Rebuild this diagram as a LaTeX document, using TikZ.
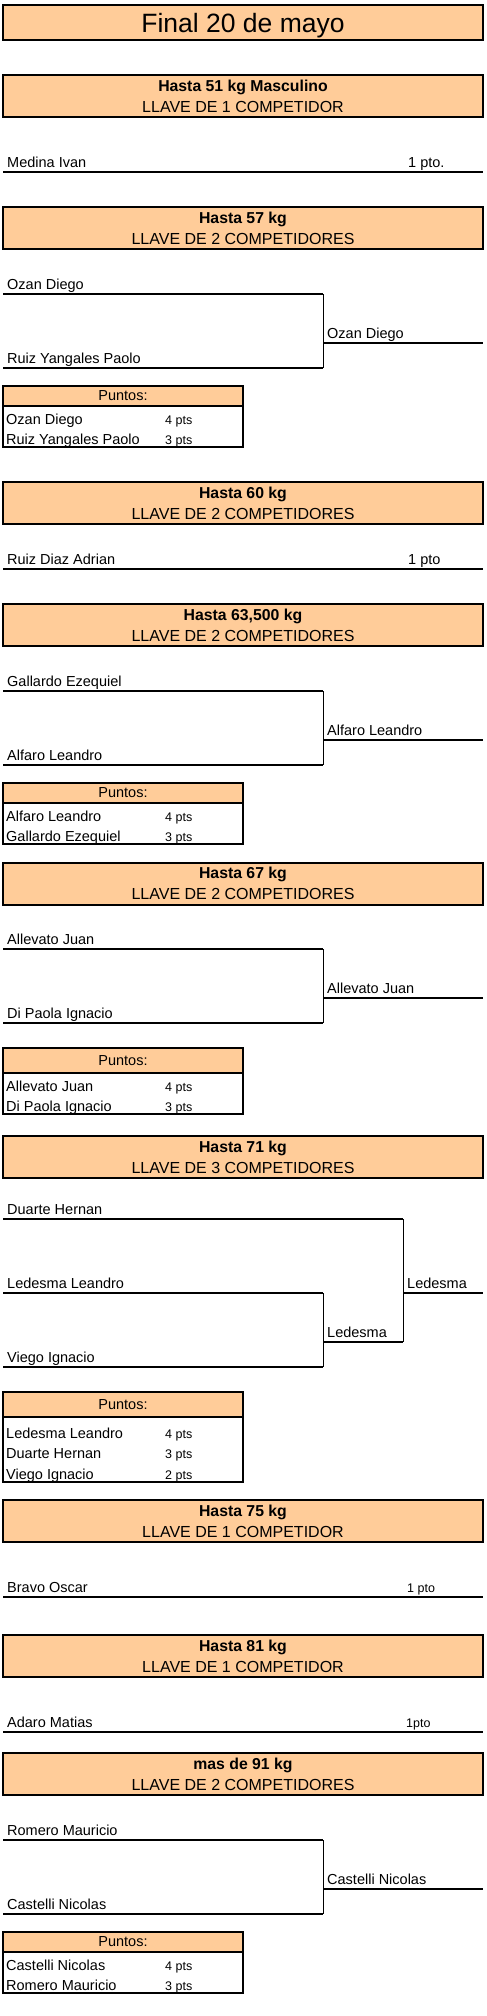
\documentclass[tikz,border=0pt]{standalone}
\usepackage{fontspec}
\setmainfont{Liberation Sans}
\usetikzlibrary{positioning}
\definecolor{peach}{HTML}{FFCC99}

\begin{document}
\begin{tikzpicture}[x=1pt,y=-1pt,
 head/.style={draw,line width=2pt,fill=peach,minimum width=480pt,minimum height=42pt,inner sep=0pt},
 htop/.style={anchor=base,inner sep=0pt,font=\fontsize{15.8}{18}\selectfont\bfseries},
 hsub/.style={anchor=base,inner sep=0pt,font=\fontsize{16}{18}\selectfont},
 nm/.style={anchor=base west,inner sep=0pt,font=\fontsize{14.5}{17}\selectfont},
 sm/.style={anchor=base west,inner sep=0pt,font=\fontsize{12.5}{15}\selectfont},
 hl/.style={line width=2pt},
 vl/.style={line width=1pt},
 pbox/.style={draw,line width=2pt,minimum width=240pt,inner sep=0pt},
 phead/.style={draw,line width=2pt,fill=peach,minimum width=240pt,inner sep=0pt,
 font=\fontsize{14.5}{17}\selectfont}]
\useasboundingbox (0,0) rectangle (487,2016);

\node[head,minimum height=35pt] (t) at (243,22.5) {};
\node[anchor=base,inner sep=0pt,font=\fontsize{26.5}{30}\selectfont] at ([yshift=-28pt]t.north) {Final 20 de mayo};

\node[head] (h51) at (243,96) {};
\node[htop] at ([yshift=-17pt]h51.north) {Hasta 51 kg Masculino};
\node[hsub] at ([yshift=-38pt]h51.north) {LLAVE DE 1 COMPETIDOR};
\coordinate (a51) at (3,172); \coordinate (e51) at (483,172);
\draw[hl] (a51) -- (e51);
\node[nm] at ([xshift=4pt,yshift=4.5pt]a51) {Medina Ivan};
\node[nm] at ([xshift=405pt,yshift=4.5pt]a51) {1 pto.};

\node[head] (h57) at (243,228) {};
\node[htop] at ([yshift=-17pt]h57.north) {Hasta 57 kg};
\node[hsub] at ([yshift=-38pt]h57.north) {LLAVE DE 2 COMPETIDORES};
\coordinate (a57) at (3,294); \coordinate (b57) at (3,368);
\coordinate (ja57) at (323,294); \coordinate (jb57) at (323,368);
\coordinate (w57) at (323,343); \coordinate (e57) at (483,343);
\draw[hl] (a57) -- (ja57); \draw[hl] (b57) -- (jb57);
\draw[vl] (ja57) -- (jb57); \draw[hl] (w57) -- (e57);
\node[nm] at ([xshift=4pt,yshift=5pt]a57) {Ozan Diego};
\node[nm] at ([xshift=4pt,yshift=5pt]b57) {Ruiz Yangales Paolo};
\node[nm] at ([xshift=4pt,yshift=5pt]w57) {Ozan Diego};
\node[pbox,minimum height=61pt] (p57) at (123,416.5) {};
\node[phead,anchor=north,minimum height=20pt] (q57) at (p57.north) {Puntos:};
\node[nm] at ([xshift=4pt,yshift=-17pt]q57.south west) {Ozan Diego};
\node[sm] at ([xshift=163pt,yshift=-17pt]q57.south west) {4 pts};
\node[nm] at ([xshift=4pt,yshift=-37pt]q57.south west) {Ruiz Yangales Paolo};
\node[sm] at ([xshift=163pt,yshift=-37pt]q57.south west) {3 pts};

\node[head] (h60) at (243,503) {};
\node[htop] at ([yshift=-17pt]h60.north) {Hasta 60 kg};
\node[hsub] at ([yshift=-38pt]h60.north) {LLAVE DE 2 COMPETIDORES};
\coordinate (a60) at (3,569); \coordinate (e60) at (483,569);
\draw[hl] (a60) -- (e60);
\node[nm] at ([xshift=4pt,yshift=4.5pt]a60) {Ruiz Diaz Adrian};
\node[nm] at ([xshift=405pt,yshift=4.5pt]a60) {1 pto};

\node[head] (h63) at (243,625) {};
\node[htop] at ([yshift=-17pt]h63.north) {Hasta 63,500 kg};
\node[hsub] at ([yshift=-38pt]h63.north) {LLAVE DE 2 COMPETIDORES};
\coordinate (a63) at (3,691); \coordinate (b63) at (3,765);
\coordinate (ja63) at (323,691); \coordinate (jb63) at (323,765);
\coordinate (w63) at (323,740); \coordinate (e63) at (483,740);
\draw[hl] (a63) -- (ja63); \draw[hl] (b63) -- (jb63);
\draw[vl] (ja63) -- (jb63); \draw[hl] (w63) -- (e63);
\node[nm] at ([xshift=4pt,yshift=5pt]a63) {Gallardo Ezequiel};
\node[nm] at ([xshift=4pt,yshift=5pt]b63) {Alfaro Leandro};
\node[nm] at ([xshift=4pt,yshift=5pt]w63) {Alfaro Leandro};
\node[pbox,minimum height=61pt] (p63) at (123,813.5) {};
\node[phead,anchor=north,minimum height=20pt] (q63) at (p63.north) {Puntos:};
\node[nm] at ([xshift=4pt,yshift=-17pt]q63.south west) {Alfaro Leandro};
\node[sm] at ([xshift=163pt,yshift=-17pt]q63.south west) {4 pts};
\node[nm] at ([xshift=4pt,yshift=-37pt]q63.south west) {Gallardo Ezequiel};
\node[sm] at ([xshift=163pt,yshift=-37pt]q63.south west) {3 pts};

\node[head] (h67) at (243,883.5) {};
\node[htop] at ([yshift=-17pt]h67.north) {Hasta 67 kg};
\node[hsub] at ([yshift=-38pt]h67.north) {LLAVE DE 2 COMPETIDORES};
\coordinate (a67) at (3,949); \coordinate (b67) at (3,1023);
\coordinate (ja67) at (323,949); \coordinate (jb67) at (323,1023);
\coordinate (w67) at (323,998); \coordinate (e67) at (483,998);
\draw[hl] (a67) -- (ja67); \draw[hl] (b67) -- (jb67);
\draw[vl] (ja67) -- (jb67); \draw[hl] (w67) -- (e67);
\node[nm] at ([xshift=4pt,yshift=5pt]a67) {Allevato Juan};
\node[nm] at ([xshift=4pt,yshift=5pt]b67) {Di Paola Ignacio};
\node[nm] at ([xshift=4pt,yshift=5pt]w67) {Allevato Juan};
\node[pbox,minimum height=66pt] (p67) at (123,1081) {};
\node[phead,anchor=north,minimum height=25pt] (q67) at (p67.north) {Puntos:};
\node[nm] at ([xshift=4pt,yshift=-17pt]q67.south west) {Allevato Juan};
\node[sm] at ([xshift=163pt,yshift=-17pt]q67.south west) {4 pts};
\node[nm] at ([xshift=4pt,yshift=-37pt]q67.south west) {Di Paola Ignacio};
\node[sm] at ([xshift=163pt,yshift=-37pt]q67.south west) {3 pts};

\node[head] (h71) at (243,1157) {};
\node[htop] at ([yshift=-17pt]h71.north) {Hasta 71 kg};
\node[hsub] at ([yshift=-38pt]h71.north) {LLAVE DE 3 COMPETIDORES};
\coordinate (a71) at (3,1219); \coordinate (b71) at (3,1293); \coordinate (c71) at (3,1367);
\coordinate (ja71) at (403,1219); \coordinate (jb71) at (323,1293); \coordinate (jc71) at (323,1367);
\coordinate (w71) at (323,1342); \coordinate (k71) at (403,1342);
\coordinate (f71) at (403,1293); \coordinate (e71) at (483,1293);
\draw[hl] (a71) -- (ja71); \draw[hl] (b71) -- (jb71); \draw[hl] (c71) -- (jc71);
\draw[vl] (jb71) -- (jc71); \draw[hl] (w71) -- (k71);
\draw[vl] (ja71) -- (k71); \draw[hl] (f71) -- (e71);
\node[nm] at ([xshift=4pt,yshift=5pt]a71) {Duarte Hernan};
\node[nm] at ([xshift=4pt,yshift=5pt]b71) {Ledesma Leandro};
\node[nm] at ([xshift=4pt,yshift=5pt]c71) {Viego Ignacio};
\node[nm] at ([xshift=4pt,yshift=5pt]w71) {Ledesma};
\node[nm] at ([xshift=4pt,yshift=5pt]f71) {Ledesma};
\node[pbox,minimum height=90pt] (p71) at (123,1437) {};
\node[phead,anchor=north,minimum height=25pt] (q71) at (p71.north) {Puntos:};
\node[nm] at ([xshift=4pt,yshift=-20pt]q71.south west) {Ledesma Leandro};
\node[sm] at ([xshift=163pt,yshift=-20pt]q71.south west) {4 pts};
\node[nm] at ([xshift=4pt,yshift=-40.5pt]q71.south west) {Duarte Hernan};
\node[sm] at ([xshift=163pt,yshift=-40.5pt]q71.south west) {3 pts};
\node[nm] at ([xshift=4pt,yshift=-61pt]q71.south west) {Viego Ignacio};
\node[sm] at ([xshift=163pt,yshift=-61pt]q71.south west) {2 pts};

\node[head] (h75) at (243,1521) {};
\node[htop] at ([yshift=-17pt]h75.north) {Hasta 75 kg};
\node[hsub] at ([yshift=-38pt]h75.north) {LLAVE DE 1 COMPETIDOR};
\coordinate (a75) at (3,1597); \coordinate (e75) at (483,1597);
\draw[hl] (a75) -- (e75);
\node[nm] at ([xshift=4pt,yshift=4.5pt]a75) {Bravo Oscar};
\node[sm] at ([xshift=404pt,yshift=4.5pt]a75) {1 pto};

\node[head] (h81) at (243,1656) {};
\node[htop] at ([yshift=-17pt]h81.north) {Hasta 81 kg};
\node[hsub] at ([yshift=-38pt]h81.north) {LLAVE DE 1 COMPETIDOR};
\coordinate (a81) at (3,1732); \coordinate (e81) at (483,1732);
\draw[hl] (a81) -- (e81);
\node[nm] at ([xshift=4pt,yshift=4.5pt]a81) {Adaro Matias};
\node[sm] at ([xshift=403pt,yshift=4.5pt]a81) {1pto};

\node[head] (h91) at (243,1774) {};
\node[htop] at ([yshift=-17pt]h91.north) {mas de 91 kg};
\node[hsub] at ([yshift=-38pt]h91.north) {LLAVE DE 2 COMPETIDORES};
\coordinate (a91) at (3,1840); \coordinate (b91) at (3,1914);
\coordinate (ja91) at (323,1840); \coordinate (jb91) at (323,1914);
\coordinate (w91) at (323,1889); \coordinate (e91) at (483,1889);
\draw[hl] (a91) -- (ja91); \draw[hl] (b91) -- (jb91);
\draw[vl] (ja91) -- (jb91); \draw[hl] (w91) -- (e91);
\node[nm] at ([xshift=4pt,yshift=5pt]a91) {Romero Mauricio};
\node[nm] at ([xshift=4pt,yshift=5pt]b91) {Castelli Nicolas};
\node[nm] at ([xshift=4pt,yshift=5pt]w91) {Castelli Nicolas};
\node[pbox,minimum height=61pt] (p91) at (123,1962.5) {};
\node[phead,anchor=north,minimum height=20pt] (q91) at (p91.north) {Puntos:};
\node[nm] at ([xshift=4pt,yshift=-17pt]q91.south west) {Castelli Nicolas};
\node[sm] at ([xshift=163pt,yshift=-17pt]q91.south west) {4 pts};
\node[nm] at ([xshift=4pt,yshift=-37pt]q91.south west) {Romero Mauricio};
\node[sm] at ([xshift=163pt,yshift=-37pt]q91.south west) {3 pts};
\end{tikzpicture}
\end{document}
